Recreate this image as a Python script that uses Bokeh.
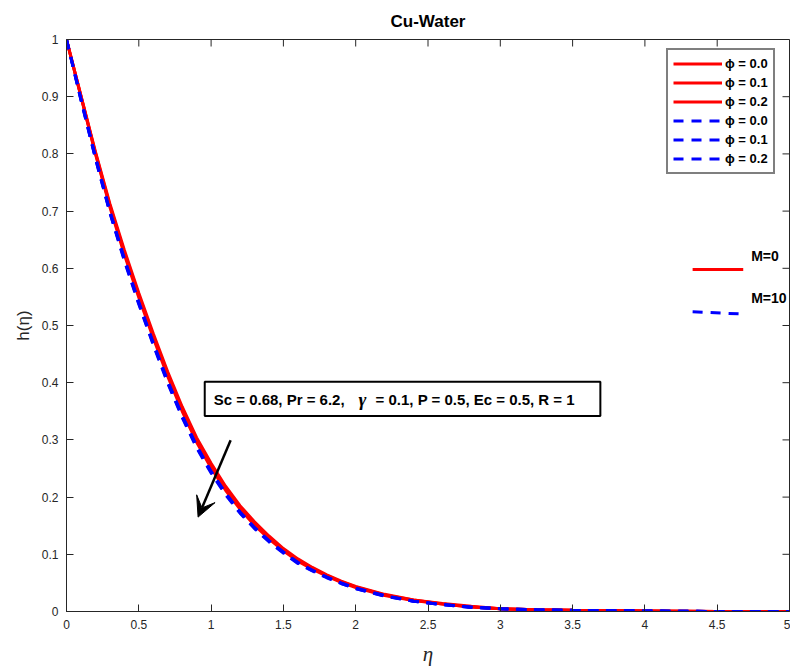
from bokeh.plotting import figure
from bokeh.models import (Range1d, FixedTicker, Legend, LegendItem,
                          Label, Arrow, VeeHead, BoxAnnotation)
from bokeh.embed import file_html
from bokeh.resources import INLINE

# ---------------- data ----------------
eta = [0, 0.1, 0.2, 0.3, 0.4, 0.5, 0.6, 0.7, 0.8, 0.9, 1.0, 1.1, 1.2, 1.3, 1.4,
       1.5, 1.6, 1.7, 1.8, 1.9, 2.0, 2.2, 2.4, 2.6, 2.8, 3.0, 3.25, 3.5, 4.0, 4.5, 5.0]

# M = 0 (solid red)
h_M0_phi00 = [1.000, 0.900, 0.800, 0.707, 0.624, 0.549, 0.478, 0.411, 0.350, 0.296, 0.251,
              0.212, 0.179, 0.151, 0.127, 0.106, 0.088, 0.074, 0.062, 0.051, 0.042,
              0.028, 0.019, 0.013, 0.008, 0.005, 0.003, 0.002, 0.001, 0.000, 0.000]
h_M0_phi01 = [1.000, 0.901, 0.802, 0.710, 0.628, 0.553, 0.482, 0.415, 0.354, 0.300, 0.255,
              0.215, 0.182, 0.154, 0.130, 0.108, 0.090, 0.076, 0.063, 0.052, 0.043,
              0.029, 0.020, 0.013, 0.008, 0.005, 0.003, 0.002, 0.001, 0.000, 0.000]
h_M0_phi02 = [1.000, 0.902, 0.804, 0.713, 0.632, 0.557, 0.486, 0.419, 0.358, 0.304, 0.259,
              0.219, 0.185, 0.157, 0.132, 0.110, 0.092, 0.077, 0.064, 0.053, 0.044,
              0.030, 0.020, 0.014, 0.009, 0.005, 0.003, 0.002, 0.001, 0.000, 0.000]
# M = 10 (dashed blue)
h_M10_phi00 = [1.000, 0.894, 0.792, 0.697, 0.613, 0.537, 0.466, 0.399, 0.339, 0.286, 0.242,
               0.204, 0.172, 0.145, 0.122, 0.102, 0.084, 0.071, 0.059, 0.049, 0.040,
               0.027, 0.018, 0.012, 0.007, 0.005, 0.003, 0.002, 0.001, 0.000, 0.000]
h_M10_phi01 = [1.000, 0.895, 0.793, 0.698, 0.615, 0.539, 0.468, 0.401, 0.341, 0.288, 0.244,
               0.206, 0.173, 0.146, 0.123, 0.103, 0.085, 0.072, 0.060, 0.049, 0.040,
               0.027, 0.018, 0.012, 0.007, 0.005, 0.003, 0.002, 0.001, 0.000, 0.000]
h_M10_phi02 = [1.000, 0.896, 0.795, 0.700, 0.617, 0.541, 0.470, 0.403, 0.343, 0.290, 0.245,
               0.207, 0.174, 0.147, 0.124, 0.104, 0.086, 0.072, 0.060, 0.050, 0.041,
               0.028, 0.018, 0.012, 0.008, 0.005, 0.003, 0.002, 0.001, 0.000, 0.000]

legend_labels = ["ϕ = 0.0", "ϕ = 0.1", "ϕ = 0.2", "ϕ = 0.0", "ϕ = 0.1", "ϕ = 0.2"]
x_ticks = [0, 0.5, 1, 1.5, 2, 2.5, 3, 3.5, 4, 4.5, 5]
x_tick_labels = ["0", "0.5", "1", "1.5", "2", "2.5", "3", "3.5", "4", "4.5", "5"]
y_ticks = [0, 0.1, 0.2, 0.3, 0.4, 0.5, 0.6, 0.7, 0.8, 0.9, 1]
y_tick_labels = ["0", "0.1", "0.2", "0.3", "0.4", "0.5", "0.6", "0.7", "0.8", "0.9", "1"]
params_part1 = "Sc = 0.68, Pr = 6.2,"
params_gamma = "γ"
params_part2 = "= 0.1, P = 0.5, Ec = 0.5, R = 1"

FONT = "Liberation Sans"
AX = "#262626"
X_MIN, X_MAX, Y_MIN, Y_MAX = 0, 5, 0, 1
FRAME_W, FRAME_H = 723, 572
TICK_PX = 7

p = figure(width=790, height=669, output_backend="svg", toolbar_location=None,
           x_range=Range1d(X_MIN, X_MAX), y_range=Range1d(Y_MIN, Y_MAX),
           min_border_left=66, min_border_right=1, min_border_top=39, min_border_bottom=58,
           title="Cu-Water")
p.title.align = "center"
p.title.text_font = FONT
p.title.text_font_size = "17px"
p.title.text_font_style = "bold"
p.title.text_color = "black"
p.title.standoff = 18
p.xgrid.visible = False
p.ygrid.visible = False
p.background_fill_color = "white"
p.border_fill_color = "white"
p.outline_line_color = AX
p.outline_line_width = 1

def style_axis(ax, ticks, labels):
    ax.ticker = FixedTicker(ticks=ticks)
    ax.major_label_overrides = {t: l for t, l in zip(ticks, labels)}
    ax.minor_tick_line_color = None
    ax.major_tick_in = TICK_PX
    ax.major_tick_out = 0
    ax.axis_line_color = AX
    ax.major_tick_line_color = AX
    ax.major_label_text_font = FONT
    ax.major_label_text_color = AX
    ax.major_label_text_font_size = "12px"
    ax.major_label_standoff = 8

style_axis(p.xaxis[0], x_ticks, x_tick_labels)
style_axis(p.yaxis[0], y_ticks, y_tick_labels)
p.xaxis[0].axis_label = "η"
p.xaxis[0].axis_label_text_font = "Liberation Serif"
p.xaxis[0].axis_label_text_font_style = "italic"
p.xaxis[0].axis_label_text_font_size = "21px"
p.xaxis[0].axis_label_text_color = AX
p.xaxis[0].axis_label_standoff = 10
p.yaxis[0].axis_label = "h(η)"
p.yaxis[0].axis_label_text_font = FONT
p.yaxis[0].axis_label_text_font_style = "normal"
p.yaxis[0].axis_label_text_font_size = "17px"
p.yaxis[0].axis_label_text_color = AX
p.yaxis[0].axis_label_standoff = 6

# mirrored inward ticks on top and right edges of the box
dy_tick = TICK_PX * (Y_MAX - Y_MIN) / FRAME_H
dx_tick = TICK_PX * (X_MAX - X_MIN) / FRAME_W
p.segment(x0=x_ticks, y0=[Y_MAX] * len(x_ticks), x1=x_ticks, y1=[Y_MAX - dy_tick] * len(x_ticks),
          line_color=AX, line_width=1)
p.segment(x0=[X_MAX] * len(y_ticks), y0=y_ticks, x1=[X_MAX - dx_tick] * len(y_ticks), y1=y_ticks,
          line_color=AX, line_width=1)

RED = "#FF0000"
BLUE = "#0000FF"
renderers = []
for ys in [h_M0_phi00, h_M0_phi01, h_M0_phi02]:
    renderers.append(p.line(eta, ys, line_color=RED, line_width=3))
for ys in [h_M10_phi00, h_M10_phi01, h_M10_phi02]:
    renderers.append(p.line(eta, ys, line_color=BLUE, line_width=3, line_dash="10 8"))

legend = Legend(items=[LegendItem(label=l, renderers=[r]) for l, r in zip(legend_labels, renderers)],
                location=(600, 437))
legend.border_line_color = "black"
legend.border_line_width = 2
legend.background_fill_color = "white"
legend.background_fill_alpha = 1
legend.label_text_font = FONT
legend.label_text_font_style = "bold"
legend.label_text_font_size = "13px"
legend.label_text_color = "black"
legend.glyph_width = 49
legend.glyph_height = 17
legend.label_height = 17
legend.spacing = 2
legend.padding = 5
legend.margin = 0
legend.label_standoff = 3
p.add_layout(legend)

# M annotation (line samples with labels)
p.line([4.33, 4.68], [0.598, 0.598], line_color=RED, line_width=3)
p.line([4.33, 4.68], [0.524, 0.520], line_color=BLUE, line_width=3, line_dash="10 8")
p.add_layout(Label(x=4.735, y=0.622, text="M=0", text_font=FONT, text_font_style="bold",
                   text_font_size="14px", text_baseline="middle", text_color="black"))
p.add_layout(Label(x=4.735, y=0.548, text="M=10", text_font=FONT, text_font_style="bold",
                   text_font_size="14px", text_baseline="middle", text_color="black"))

# parameter box
p.add_layout(BoxAnnotation(left=0.956, right=3.692, bottom=0.3416, top=0.4018,
                           fill_color="white", fill_alpha=1, line_color="black",
                           line_alpha=1, line_width=2))
p.add_layout(Label(x=1.018, y=0.3714, text=params_part1, text_font=FONT, text_font_style="bold",
                   text_font_size="15px", text_baseline="middle", text_color="black"))
p.add_layout(Label(x=2.02, y=0.3714, text=params_gamma, text_font="Liberation Serif",
                   text_font_style="bold italic", text_font_size="19px",
                   text_baseline="middle", text_color="black"))
p.add_layout(Label(x=2.1375, y=0.3714, text=params_part2, text_font=FONT, text_font_style="bold",
                   text_font_size="15px", text_baseline="middle", text_color="black"))

# arrow
p.add_layout(Arrow(end=VeeHead(size=20, fill_color="black", line_color="black"),
                   x_start=1.135, y_start=0.2995, x_end=0.91, y_end=0.165,
                   line_color="black", line_width=2.5))

open("out.html", "w").write(file_html(p, INLINE))
